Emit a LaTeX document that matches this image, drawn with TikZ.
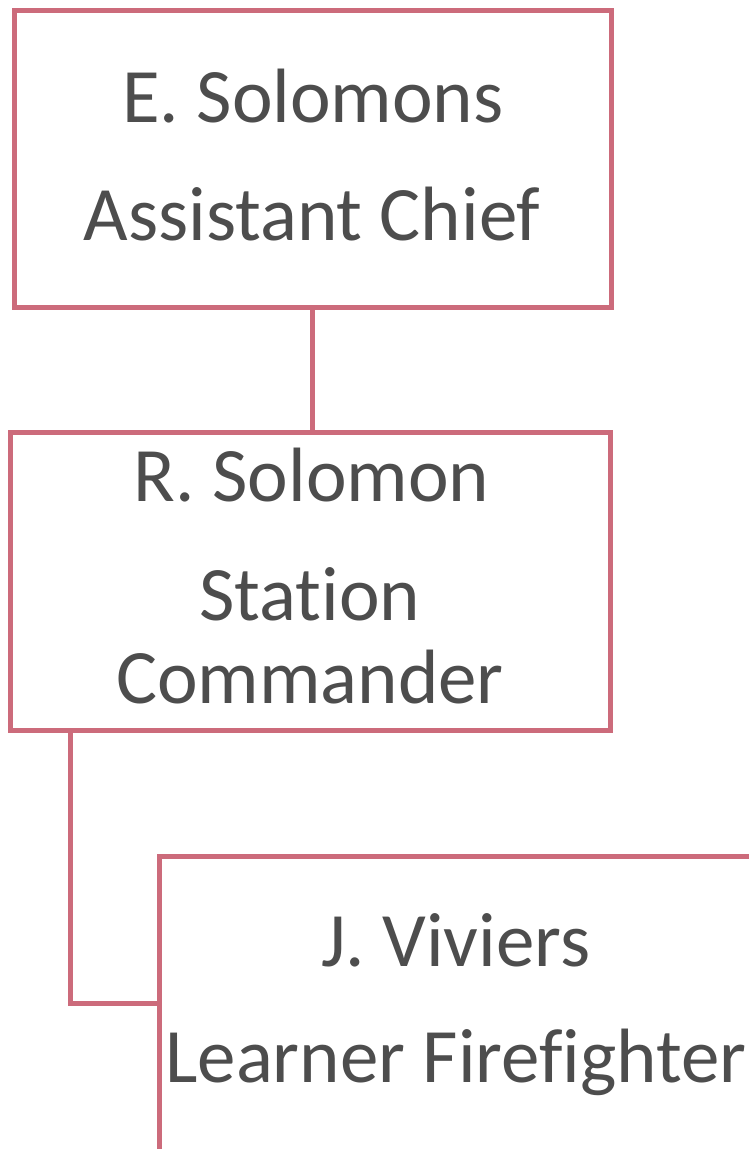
\documentclass[tikz,border=0pt]{standalone}
\usepackage{fontspec}
\setmainfont{Carlito}[Ligatures=NoCommon]
\definecolor{edge}{HTML}{CC6B7B}
\definecolor{ink}{HTML}{4D4D4D}
\begin{document}
\begin{tikzpicture}[x=1pt,y=-1pt,
  box/.style={draw=edge,line width=5pt,minimum width=#1,inner sep=0pt,outer sep=0pt},
  lbl/.style={anchor=base,text=ink,font=\fontsize{77}{82}\selectfont,inner sep=0pt},
  link/.style={draw=edge,line width=5pt}]
\useasboundingbox (0,0) rectangle (749,1149);
\clip (0,0) rectangle (749,1149);
\fill[white] (0,0) rectangle (749,1149);
\node[box=597pt,minimum height=297.5pt] (b1) at (312.5,158.75) {};
\node[box=599.5pt,minimum height=298pt] (b2) at (310.25,581.5) {};
\node[box=620.5pt,minimum height=313.5pt] (b3) at (469.75,1013.25) {};
\node[lbl] (t1a) at (313,122) {E. Solomons};
\node[lbl] (t1b) at (312,240) {Assistant Chief};
\node[lbl] (t2a) at (311.5,501) {R. Solomon};
\node[lbl] (t2b) at (310,620) {Station};
\node[lbl] (t2c) at (310,703) {Commander};
\node[lbl] (t3a) at (456,966) {J. Viviers};
\node[lbl] (t3b) at (456,1082) {Learner Firefighter};
\coordinate (down) at (70,730.5);
\coordinate (join) at (159.5,1003.5);
\draw[link] (b1.south) -- (b1.south |- b2.north);
\draw[link] (b2.south -| down) |- (join);
\end{tikzpicture}
\end{document}
